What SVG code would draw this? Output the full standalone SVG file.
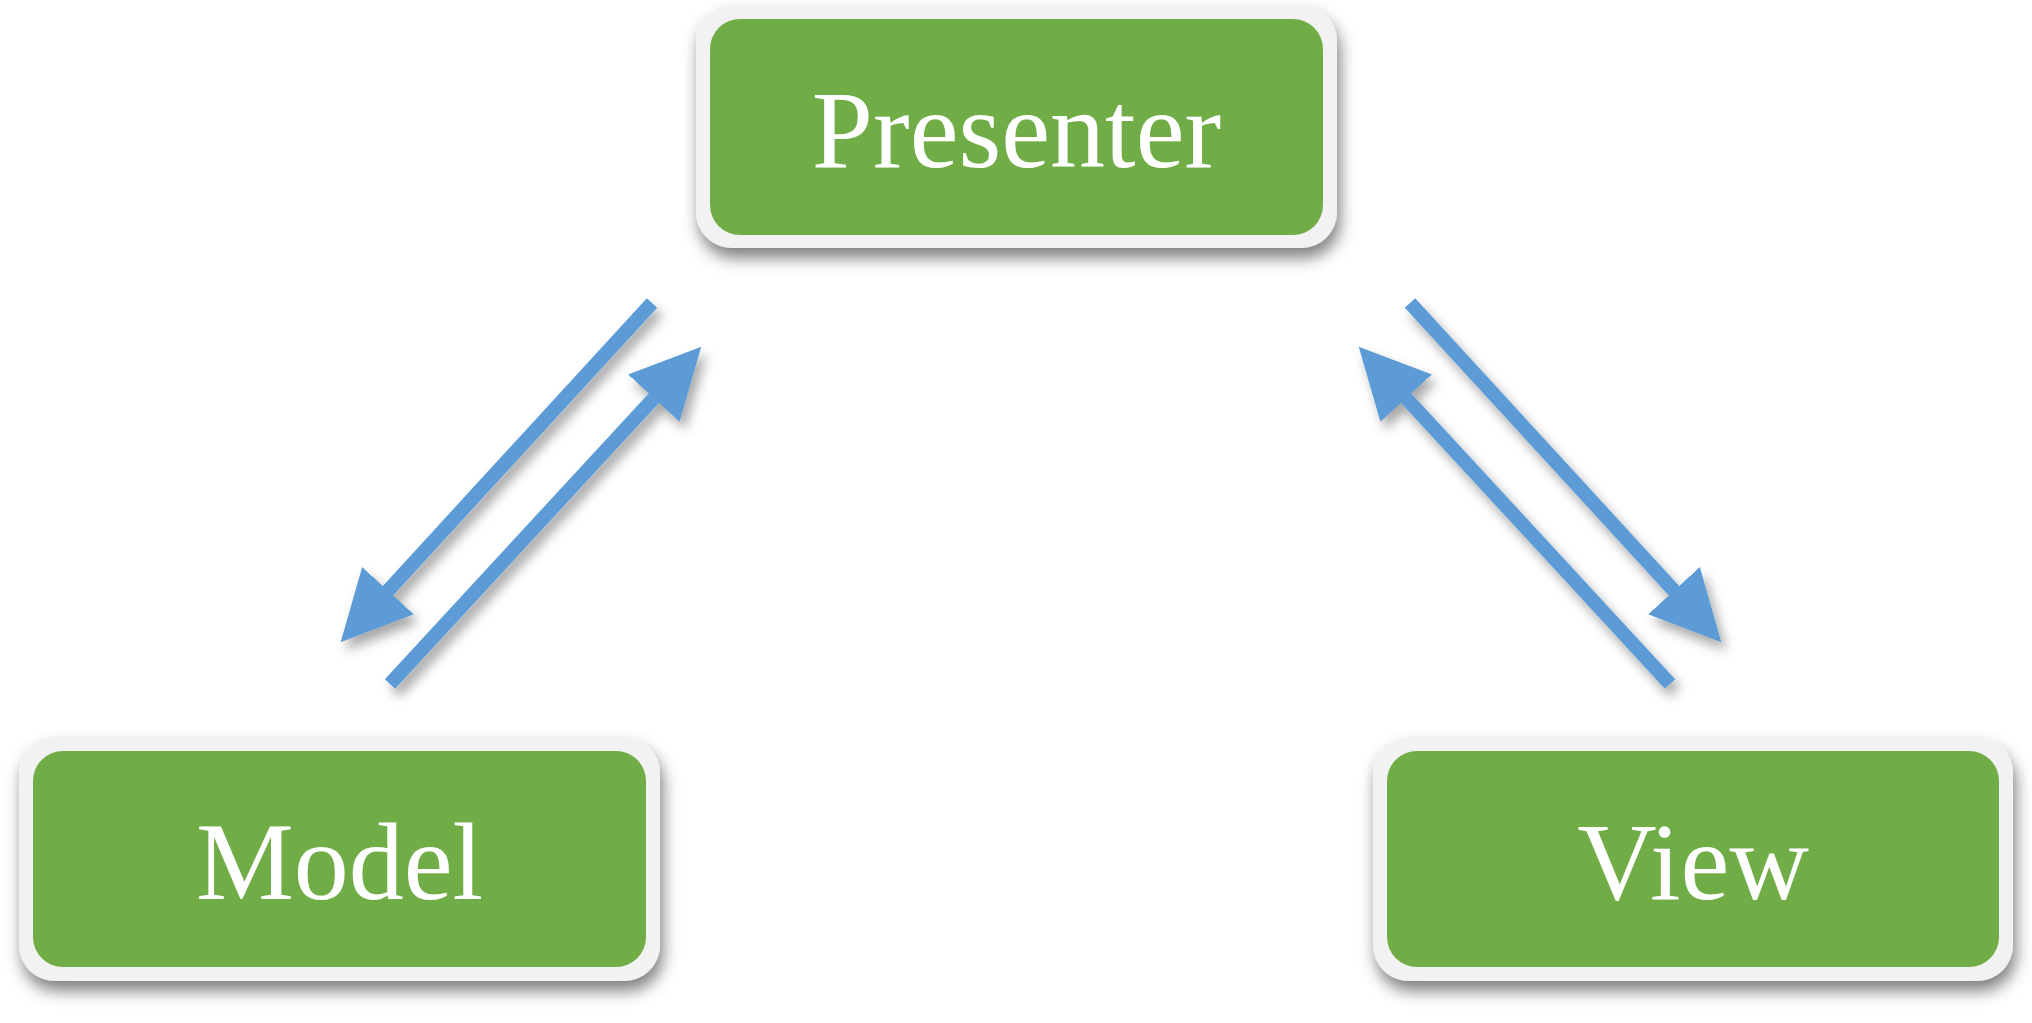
<svg xmlns="http://www.w3.org/2000/svg" width="2032" height="1023" viewBox="0 0 2032 1023">
  <defs>
    <filter id="boxShadow" x="-10%" y="-10%" width="120%" height="140%">
      <feDropShadow dx="3" dy="10" stdDeviation="8" flood-color="#000" flood-opacity="0.5"/>
    </filter>
    <filter id="arrowShadow" x="-20%" y="-20%" width="140%" height="140%">
      <feDropShadow dx="5" dy="8" stdDeviation="6" flood-color="#000" flood-opacity="0.35"/>
    </filter>
    <marker id="head" markerUnits="userSpaceOnUse" markerWidth="72" markerHeight="72" refX="1" refY="35" orient="auto">
      <path d="M0,0 L70,35 L0,70 Z" fill="#5b9bd5"/>
    </marker>
    <style>
      .frame { fill: #f2f2f2; }
      .body { fill: #70ad47; }
      .label { fill: #ffffff; font-family: "Liberation Serif", "Times New Roman", serif; font-size: 110px; text-anchor: middle; }
      .conn { stroke: #5b9bd5; stroke-width: 14; fill: none; stroke-linecap: butt; marker-end: url(#head); }
    </style>
  </defs>
  <rect width="2032" height="1023" fill="#ffffff"/>

  <g id="presenter">
    <rect class="frame" x="696" y="5" width="641" height="243" rx="36" ry="36" filter="url(#boxShadow)"/>
    <rect class="body" x="710" y="19" width="613" height="216" rx="30" ry="30"/>
    <text class="label" x="1016.5" y="167">Presenter</text>
  </g>

  <g id="model">
    <rect class="frame" x="19" y="737" width="641" height="244" rx="36" ry="36" filter="url(#boxShadow)"/>
    <rect class="body" x="33" y="751" width="613" height="216" rx="30" ry="30"/>
    <text class="label" x="339.5" y="899">Model</text>
  </g>

  <g id="view">
    <rect class="frame" x="1373" y="737" width="640" height="244" rx="36" ry="36" filter="url(#boxShadow)"/>
    <rect class="body" x="1387" y="751" width="612" height="216" rx="30" ry="30"/>
    <text class="label" x="1693" y="899">View</text>
  </g>

  <g id="connectors" filter="url(#arrowShadow)">
    <line class="conn" x1="652" y1="303" x2="387.3" y2="591.4"/>
    <line class="conn" x1="390" y1="684" x2="654.5" y2="397.4"/>
    <line class="conn" x1="1410" y1="303" x2="1674.7" y2="591.4"/>
    <line class="conn" x1="1670" y1="684" x2="1405.5" y2="397.4"/>
  </g>
</svg>
